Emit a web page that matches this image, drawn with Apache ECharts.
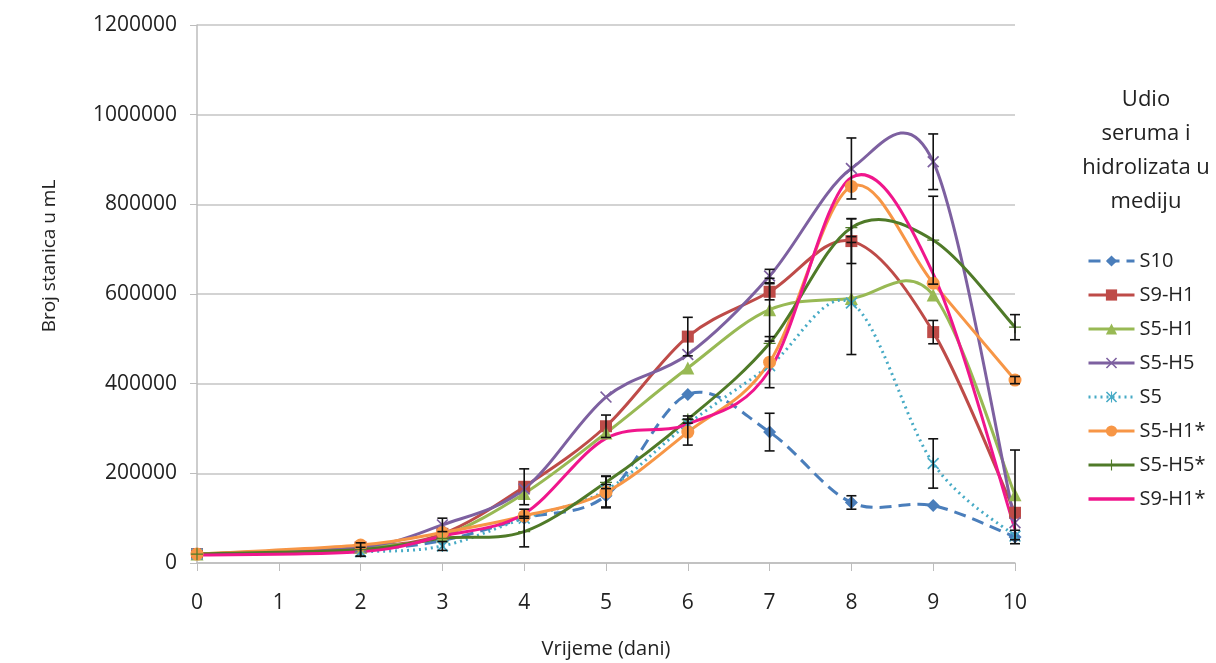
<!DOCTYPE html>
<html>
<head>
<meta charset="utf-8">
<script src="https://cdn.jsdelivr.net/npm/echarts@6/dist/echarts.min.js"></script>
<style>
  html, body { margin: 0; padding: 0; background: #fff; }
  #chart { width: 1216px; height: 663px; }
</style>
</head>
<body>
<div id="chart"></div>
<script>
var days = [0, 2, 3, 4, 5, 6, 7, 8, 9, 10];
var seriesNames = ["S10", "S9-H1", "S5-H1", "S5-H5", "S5", "S5-H1*", "S5-H5*", "S9-H1*"];

var s10 = [20000, 30000, 50000, 100000, 150000, 376000, 292000, 135000, 128000, 58000];
var s9h1 = [20000, 35000, 65000, 170000, 305000, 505000, 605000, 718000, 515000, 112000];
var s5h1 = [20000, 35000, 60000, 155000, 290000, 435000, 565000, 590000, 598000, 152000];
var s5h5 = [20000, 35000, 85000, 165000, 370000, 465000, 640000, 880000, 895000, 90000];
var s5 = [20000, 25000, 38000, 100000, 162000, 310000, 440000, 580000, 222000, 60000];
var s5h1s = [20000, 40000, 68000, 105000, 158000, 292000, 448000, 840000, 624000, 408000];
var s5h5s = [20000, 30000, 55000, 70000, 180000, 320000, 490000, 748000, 720000, 526000];
var s9h1s = [18000, 25000, 60000, 110000, 278000, 310000, 430000, 860000, 645000, 75000];

// symmetric error (standard deviation) per point
var s10Err = [0, 0, 0, 0, 25000, 0, 42000, 15000, 0, 15000];
var s9h1Err = [0, 0, 0, 40000, 25000, 43000, 18000, 50000, 26000, 0];
var s5h1Err = [0, 0, 0, 0, 0, 0, 70000, 125000, 0, 100000];
var s5h5Err = [0, 0, 15000, 0, 0, 0, 15000, 68000, 62000, 0];
var s5Err = [0, 0, 10000, 0, 0, 0, 0, 0, 55000, 0];
var s5h1sErr = [0, 0, 0, 0, 35000, 29000, 57000, 0, 0, 8000];
var s5h5sErr = [0, 15000, 0, 34000, 14000, 8000, 0, 20000, 98000, 28000];
var s9h1sErr = [0, 10000, 0, 10000, 0, 0, 0, 0, 0, 0];

var yTicks = [0, 200000, 400000, 600000, 800000, 1000000, 1200000];

var FONT = "Open Sans";
var X_PATH = "path://M0,1 L1,0 L5,4 L9,0 L10,1 L6,5 L10,9 L9,10 L5,6 L1,10 L0,9 L4,5 Z";
var PLUS_PATH = "path://M4.5,0 H5.5 V4.5 H10 V5.5 H5.5 V10 H4.5 V5.5 H0 V4.5 H4.5 Z";
var STAR_PATH = "path://M0,1 L1,0 L5,4 L9,0 L10,1 L6,5 L10,9 L9,10 L5,6 L1,10 L0,9 L4,5 Z M4.5,0 H5.5 V10 H4.5 Z";
var DASH_PATH = "path://M0,4.6 H10 V5.4 H0 Z";

var defs = [
  { name: "S10", data: s10, err: s10Err, color: "#4A7EBB", symbol: "diamond", size: 13, dash: [12, 7] },
  { name: "S9-H1", data: s9h1, err: s9h1Err, color: "#BE4B48", symbol: "rect", size: 12 },
  { name: "S5-H1", data: s5h1, err: s5h1Err, color: "#98B954", symbol: "triangle", size: 13 },
  { name: "S5-H5", data: s5h5, err: s5h5Err, color: "#7D60A0", symbol: X_PATH, size: 12 },
  { name: "S5", data: s5, err: s5Err, color: "#46AAC5", symbol: STAR_PATH, size: 12, dash: [2, 4] },
  { name: "S5-H1*", data: s5h1s, err: s5h1sErr, color: "#F79646", symbol: "circle", size: 13 },
  { name: "S5-H5*", data: s5h5s, err: s5h5sErr, color: "#4F7A28", symbol: PLUS_PATH, size: 12 },
  { name: "S9-H1*", data: s9h1s, err: s9h1sErr, color: "#F0168C", symbol: "none", size: 0 }
];

function pairs(vals) {
  return days.map(function (d, i) { return [d, vals[i]]; });
}

var errData = [];
defs.forEach(function (d) {
  d.err.forEach(function (e, i) {
    if (e > 0) errData.push([days[i], d.data[i] - e, d.data[i] + e]);
  });
});

// spreadsheet-style smoothed curve: cubic bezier with control points at (next - prev) / 6
function curveRenderer(d) {
  return function (params, api) {
    if (params.dataIndex !== 0) return null;
    var p = days.map(function (x, i) { return api.coord([x, d.data[i]]); });
    var n = p.length;
    var path = "M" + p[0][0] + " " + p[0][1];
    for (var i = 0; i < n - 1; i++) {
      var a = p[i - 1] || p[i], b = p[i], c = p[i + 1], e = p[i + 2] || p[i + 1];
      var c1x = b[0] + (c[0] - a[0]) / 6, c1y = b[1] + (c[1] - a[1]) / 6;
      var c2x = c[0] - (e[0] - b[0]) / 6, c2y = c[1] - (e[1] - b[1]) / 6;
      path += " C" + c1x + " " + c1y + " " + c2x + " " + c2y + " " + c[0] + " " + c[1];
    }
    return {
      type: "path",
      shape: { pathData: path },
      style: { fill: "none", stroke: d.color, lineWidth: 3, lineDash: d.dash || null, lineCap: "butt" }
    };
  };
}

var series = [];
defs.forEach(function (d) {
  series.push({
    name: d.name + " curve",
    type: "custom",
    data: pairs(d.data),
    encode: { x: 0, y: 1 },
    silent: true,
    z: 2,
    renderItem: curveRenderer(d)
  });
});
defs.forEach(function (d) {
  series.push({
    name: d.name,
    type: "line",
    data: pairs(d.data),
    symbol: d.symbol,
    symbolSize: d.size,
    showSymbol: d.symbol !== "none",
    z: 3,
    itemStyle: { color: d.color },
    lineStyle: { color: d.color, width: 3, opacity: 0 },
    emphasis: { disabled: true }
  });
});

series.push({
  name: "err",
  type: "custom",
  data: errData,
  z: 4,
  silent: true,
  encode: { x: 0, y: [1, 2] },
  renderItem: function (params, api) {
    var lo = api.coord([api.value(0), api.value(1)]);
    var hi = api.coord([api.value(0), api.value(2)]);
    var w = 5;
    var st = { stroke: "#111", lineWidth: 1.6 };
    return {
      type: "group",
      children: [
        { type: "line", shape: { x1: lo[0], y1: lo[1], x2: hi[0], y2: hi[1] }, style: st },
        { type: "line", shape: { x1: lo[0] - w, y1: lo[1], x2: lo[0] + w, y2: lo[1] }, style: st },
        { type: "line", shape: { x1: hi[0] - w, y1: hi[1], x2: hi[0] + w, y2: hi[1] }, style: st }
      ]
    };
  }
});

var legendData = defs.map(function (d) {
  var item = {
    name: d.name,
    lineStyle: { color: d.color, width: 3, opacity: 1, type: d.dash || "solid" }
  };
  if (d.symbol === "none") item.icon = DASH_PATH;
  return item;
});

var option = {
  backgroundColor: "#fff",
  animation: false,
  textStyle: { fontFamily: FONT },
  title: {
    text: "Udio\nseruma i\nhidrolizata u\nmediju",
    left: 1141,
    top: 78,
    textAlign: "center",
    textStyle: { fontFamily: FONT, fontSize: 22, fontWeight: "normal", color: "#222", lineHeight: 34 }
  },
  graphic: [{
    type: "text",
    x: 50,
    y: 256,
    rotation: Math.PI / 2,
    style: {
      text: "Broj stanica u mL",
      fontFamily: FONT,
      fontSize: 19,
      fill: "#222",
      align: "center",
      verticalAlign: "middle"
    }
  }],
  legend: {
    orient: "vertical",
    left: 1082,
    top: 246,
    itemWidth: 46,
    itemHeight: 14,
    itemGap: 14,
    data: legendData,
    textStyle: { fontFamily: FONT, fontSize: 20, color: "#222" }
  },
  grid: { left: 197, right: 201, top: 25, bottom: 100, containLabel: false, outerBoundsMode: "none" },
  xAxis: {
    type: "value",
    min: 0,
    max: 10,
    interval: 1,
    name: "Vrijeme (dani)",
    nameLocation: "middle",
    nameGap: 76,
    nameTextStyle: { fontFamily: FONT, fontSize: 20, color: "#222" },
    axisLine: { lineStyle: { color: "#bdbdbd", width: 1.5 } },
    axisTick: { show: true, length: 8, lineStyle: { color: "#bdbdbd" } },
    axisLabel: { fontFamily: FONT, fontSize: 21, color: "#222", margin: 30 },
    splitLine: { show: false }
  },
  yAxis: {
    type: "value",
    min: 0,
    max: 1200000,
    interval: 200000,
    axisLine: { show: true, lineStyle: { color: "#bdbdbd", width: 1.5 } },
    axisTick: { show: true, length: 7, lineStyle: { color: "#bdbdbd" } },
    axisLabel: {
      fontFamily: FONT, fontSize: 21, color: "#222", margin: 20,
      formatter: function (v) { return yTicks.indexOf(v) >= 0 ? String(v) : ""; }
    },
    splitLine: { show: true, lineStyle: { color: "#c4c4c4", width: 1.5 } }
  },
  series: series
};

var chart = echarts.init(document.getElementById("chart"));
chart.setOption(option);
</script>
</body>
</html>
